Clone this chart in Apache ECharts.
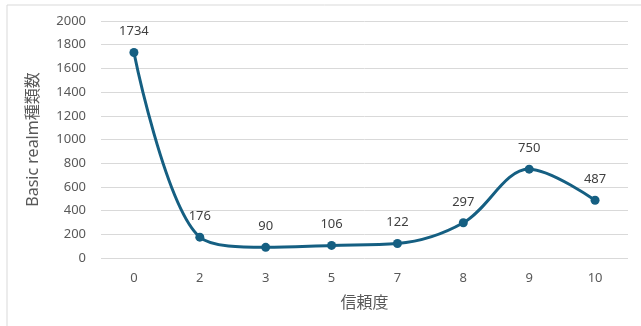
<!DOCTYPE html>
<html>
<head>
<meta charset="utf-8">
<script src="https://cdn.jsdelivr.net/npm/echarts@6/dist/echarts.min.js"></script>
<style>
html,body{margin:0;padding:0;background:#fff;}
#chart{width:641px;height:326px;}
</style>
</head>
<body>
<div id="chart"></div>
<script>
var categories = ["0", "2", "3", "5", "7", "8", "9", "10"];
var counts = [1734, 176, 90, 106, 122, 297, 750, 487];
var yTicks = { min: 0, max: 2000, step: 200 };

var chart = echarts.init(document.getElementById("chart"));
var textColor = "#595959";
var option = {
    animation: false,
    textStyle: { fontFamily: "Noto Sans, Noto Sans CJK JP" },
    graphic: [{
        type: "rect",
        shape: { x: 7, y: 5, width: 700, height: 400 },
        style: { fill: "none", stroke: "#d9d9d9", lineWidth: 1 }
    }],
    grid: { left: 101, right: 13, top: 21, bottom: 68 },
    xAxis: {
        type: "category",
        data: categories,
        name: "信頼度",
        nameLocation: "middle",
        nameGap: 37,
        nameTextStyle: { color: textColor, fontSize: 16 },
        axisLine: { show: false },
        axisTick: { show: false },
        axisLabel: { color: textColor, fontSize: 13, margin: 14 }
    },
    yAxis: {
        type: "value",
        min: yTicks.min,
        max: yTicks.max,
        interval: yTicks.step,
        name: "Basic realm種類数",
        nameLocation: "middle",
        nameGap: 60,
        nameTextStyle: { color: textColor, fontSize: 16 },
        axisLine: { show: false },
        axisTick: { show: false },
        axisLabel: {
            color: textColor,
            fontSize: 13,
            margin: 15,
            formatter: function (v) { return String(v); }
        },
        splitLine: { lineStyle: { color: "#d9d9d9", width: 1 } }
    },
    series: [{
        type: "line",
        data: counts,
        smooth: 0.35,
        symbol: "circle",
        symbolSize: 9,
        lineStyle: { color: "#155f82", width: 3 },
        itemStyle: { color: "#155f82" },
        label: {
            show: true,
            position: "top",
            distance: 10,
            color: "#404040",
            fontSize: 13
        }
    }]
};
chart.setOption(option);
</script>
</body>
</html>
